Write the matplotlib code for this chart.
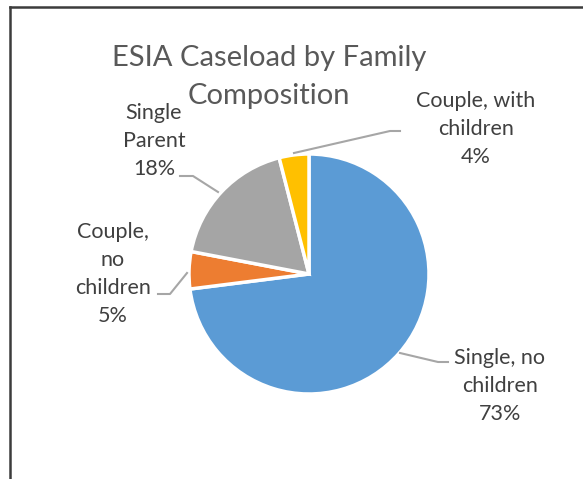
'''ESIA caseload pie chart'''

import matplotlib
matplotlib.use('Agg')
from matplotlib import pyplot as plt
from matplotlib.lines import Line2D

# data
labels = ['Single, no\nchildren', 'Couple,\nno\nchildren', 'Single\nParent', 'Couple, with\nchildren']
shares = [73, 5, 18, 4]
colors = ['#5B9BD5', '#ED7D31', '#A5A5A5', '#FFC000']

W, H = 583, 479
CX, CY, R = 309, 274, 120

plt.rcParams['font.family'] = ['Lato', 'DejaVu Sans']

fig = plt.figure(figsize=(W / 100, H / 100), dpi=100)
fig.patch.set_facecolor('white')

# chart border (top and left visible)
fig.add_artist(Line2D([10 / W, 10 / W], [0, 1 - 7 / H], transform=fig.transFigure,
                      color='#3c3c3c', lw=1.8))
fig.add_artist(Line2D([10 / W, 1], [1 - 7 / H, 1 - 7 / H], transform=fig.transFigure,
                      color='#3c3c3c', lw=1.8))

ax = fig.add_axes([(CX - R) / W, (H - CY - R) / H, 2 * R / W, 2 * R / H])
ax.pie(shares, colors=colors, startangle=90, counterclock=False,
       wedgeprops=dict(edgecolor='white', linewidth=2.5))
ax.set_xlim(-1, 1)
ax.set_ylim(-1, 1)
ax.set_aspect('equal')
ax.axis('off')


def px(x, y):
    # pixel position -> pie data units
    return ((x - CX) / R, (CY - y) / R)


# label positions (pixel centres) and leader lines
label_pos = [(500, 386), (113, 274), (154, 141), (476, 129)]
leaders = [
    [(400, 353), (438, 362), (448, 362)],
    [(187, 273), (170, 294), (158, 294)],
    [(218, 192), (193, 176), (180, 176)],
    [(294, 153), (390, 131), (400, 131)],
]

for lab, s, pos, ld in zip(labels, shares, label_pos, leaders):
    x, y = px(*pos)
    ax.text(x, y, lab + '\n' + str(s) + '%', ha='center', va='center',
            fontsize=15.5, color='#404040', linespacing=1.5, clip_on=False)
    xs = [px(a, b)[0] for a, b in ld]
    ys = [px(a, b)[1] for a, b in ld]
    ax.plot(xs, ys, color='#A6A6A6', lw=1.5, clip_on=False)

fig.text(269 / W, 1 - 77 / H, 'ESIA Caseload by Family\nComposition', ha='center', va='center',
         fontsize=21, color='#595959', linespacing=1.55)

fig.savefig('out.png', dpi=100)
